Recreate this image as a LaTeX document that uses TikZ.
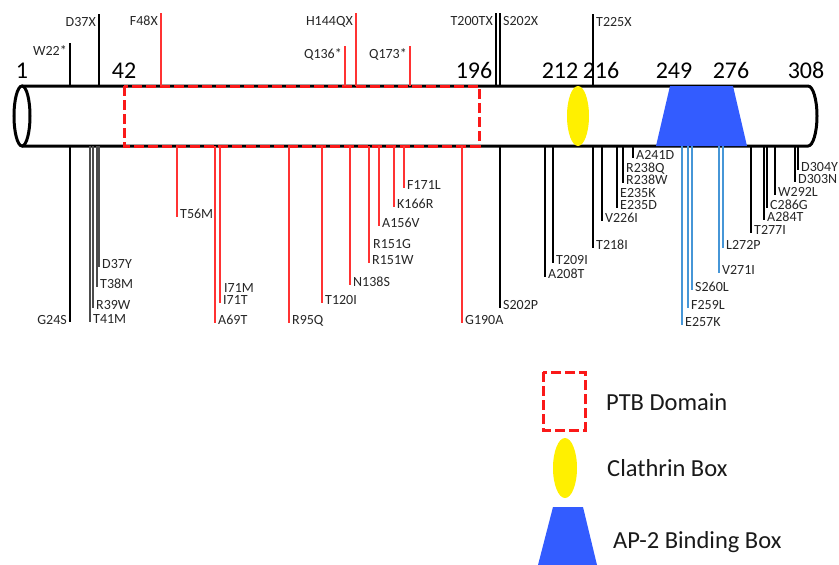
\documentclass[tikz,border=0pt]{standalone}
\usepackage{fontspec}
\setmainfont{Carlito}
\definecolor{ptbred}{RGB}{250,25,25}
\definecolor{mutred}{RGB}{255,50,50}
\definecolor{apblue}{RGB}{51,92,255}
\definecolor{mutblue}{RGB}{70,150,215}
\definecolor{clyellow}{RGB}{255,240,0}
\begin{document}
\begin{tikzpicture}[x=1pt,y=-1pt,
  blackmut/.style={line width=1.2pt},
  graymut/.style={line width=1.1pt,black!70},
  redmut/.style={line width=1.3pt,mutred},
  bluemut/.style={line width=1.6pt,mutblue},
  lab/.style={font=\fontsize{14}{15}\selectfont,inner sep=0pt,text=black!85},
  num/.style={font=\fontsize{24}{28}\selectfont,inner sep=0pt,anchor=base},
  leg/.style={font=\fontsize{24.5}{28}\selectfont,inner sep=0pt,anchor=base west,text=black!90},
  ptbbox/.style={ptbred,line width=3pt,dash pattern=on 10pt off 4pt}]
\useasboundingbox (0,0) rectangle (839,565);

% protein body
\coordinate (TL) at (22,86);
\coordinate (TR) at (808,86);
\coordinate (BL) at (22,146);
\draw[line width=3pt] (TL) -- (TR) arc[start angle=90,end angle=-90,x radius=9pt,y radius=30pt] -- (BL);
\draw[line width=3pt] (22,116) ellipse[x radius=8pt,y radius=30pt];

% domains
\draw[ptbbox] (124,86) rectangle (479,146);
\fill[clyellow] (578,116) ellipse[x radius=11pt,y radius=30pt];
\fill[apblue] (670,86) -- (733,86) -- (747,146) -- (656,146) -- cycle;

% residue numbers
\foreach \x/\n in {22/1,124/42,474/196,560/212,601/216,674/249,731/276,806/308}
  \node[num] (n\n) at (\x,78) {\n};

% mutations above
\foreach \x/\y/\lab [count=\i] in {70/43/W22*,99/14/D37X,496/13/T200TX} {
  \draw[blackmut] (\x,86) -- (\x,\y);
  \node[lab,anchor=base east] (ta\i) at (\x-3,\y+12) {\lab};
}
\foreach \x/\y/\lab [count=\i] in {500/13/S202X,593/14/T225X} {
  \draw[blackmut] (\x,86) -- (\x,\y);
  \node[lab,anchor=base west] (tb\i) at (\x+3,\y+12) {\lab};
}
\foreach \x/\y/\lab [count=\i] in {161/13/F48X,356/13/H144QX,345/46/Q136*,410/46/Q173*} {
  \draw[redmut] (\x,86) -- (\x,\y);
  \node[lab,anchor=base east] (tc\i) at (\x-3,\y+12) {\lab};
}

% mutations below
\draw[blackmut] (70,146) -- (70,322);
\node[lab,anchor=base east] (g24s) at (67,324) {G24S};
\foreach \x/\y/\lab [count=\i] in {90/322/T41M,93/308/R39W,97/287/T38M,99/267/D37Y} {
  \draw[graymut] (\x,146) -- (\x,\y);
  \node[lab,anchor=base west] (ba\i) at (\x+3,\y+1) {\lab};
}
\foreach \x/\y/\lab [count=\i] in {177/217/T56M,215/323/A69T,220/303/I71T,289/323/R95Q,322/303/T120I,
    350/285/N138S,369/263/R151W,379/226/A156V,394/207/K166R,404/188/F171L,462/323/G190A} {
  \draw[redmut] (\x,146) -- (\x,\y);
  \node[lab,anchor=base west] (bb\i) at (\x+3,\y+1) {\lab};
}
\node[lab,anchor=base west] (i71m) at (224,292) {I71M};
\node[lab,anchor=base west] (r151g) at (373,248) {R151G};
\foreach \x/\y/\lab [count=\i] in {500/308/S202P,545/277/A208T,553/263/T209I,593/248/T218I,602/221/V226I,
    617/208/E235D,623/183/R238W,633/158/A241D,751/233/T277I,764/220/A284T,767/208/C286G,
    775/195/W292L,795/182/D303N,798/170/D304Y} {
  \draw[blackmut] (\x,146) -- (\x,\y);
  \node[lab,anchor=base west] (bc\i) at (\x+3,\y+1) {\lab};
}
\node[lab,anchor=base west] (e235k) at (620,197) {E235K};
\node[lab,anchor=base west] (r238q) at (626,172) {R238Q};
\foreach \x/\y/\lab [count=\i] in {682/325/E257K,688/308/F259L,692/290/S260L,719/273/V271I,723/248/L272P} {
  \draw[bluemut] (\x,146) -- (\x,\y);
  \node[lab,anchor=base west] (bd\i) at (\x+3,\y+1) {\lab};
}

% legend
\draw[ptbbox] (543,372) rectangle (585,430);
\node[leg] (ptb) at (606,410) {PTB Domain};
\fill[clyellow] (565,468) ellipse[x radius=12pt,y radius=30pt];
\node[leg] (clath) at (607,476) {Clathrin Box};
\fill[apblue] (553,507) -- (583,507) -- (597,565) -- (538,565) -- cycle;
\node[leg] (ap2) at (613,548) {AP-2 Binding Box};
\end{tikzpicture}
\end{document}
